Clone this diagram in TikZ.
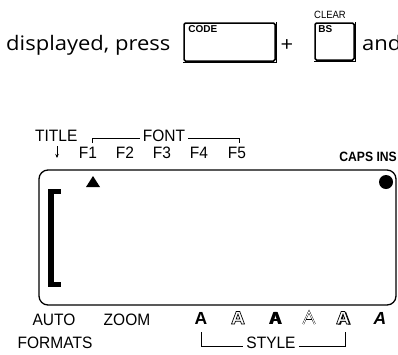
\documentclass[tikz,border=0pt]{standalone}
\usepackage{fontspec}
\setmainfont{Liberation Sans}
\newfontfamily\bodyfont{Open Sans}
\usetikzlibrary{arrows.meta}
\begin{document}
\begin{tikzpicture}[x=1pt,y=-1pt,
  body/.style={inner sep=0pt, anchor=base west, font=\bodyfont\fontsize{20}{20}\selectfont, xscale=1.1},
  lbl/.style={inner sep=0pt, anchor=base, font=\fontsize{16.5}{16.5}\selectfont, xscale=0.94},
  keylbl/.style={inner sep=0pt, anchor=north west, font=\bfseries\fontsize{10}{10}\selectfont},
  keybox/.style={draw, line width=1.5pt, rounded corners=1.5pt, inner sep=0pt},
  keyshadow/.style={line width=1.2pt},
  brk/.style={line width=0.6pt},
  bigA/.style={inner sep=0pt, anchor=base, font=\bfseries\fontsize{17.5}{17.5}\selectfont},
  outlineA/.pic={
    \path[pic actions, even odd rule]
      (-6.5,0) -- (-1.8,-12.5) -- (1.8,-12.5) -- (6.5,0) -- (3.5,0) -- (2.6,-2.7) -- (-2.6,-2.7) -- (-3.5,0) -- cycle
      (-1.8,-5.1) -- (1.8,-5.1) -- (0,-10) -- cycle;
  }]
\useasboundingbox (0,0) rectangle (398,354);
\clip (0,0) rectangle (398,354);

% top line
\node[body] (disp) at (6,50) {displayed, press};
\node[keybox, minimum width=91pt, minimum height=38pt] (code) at (229.5,42) {};
\draw[keyshadow] ([xshift=0.8pt]code.north east) -- ([xshift=0.8pt,yshift=-0.8pt]code.south east) -- ([yshift=-0.8pt]code.south west);
\node[keylbl] (codetxt) at ([shift={(5,3)}]code.north west) {CODE};
\node[body, anchor=center] (plus) at (287,46) {+};
\node[keybox, minimum width=39pt, minimum height=37pt] (bs) at (334.5,41.5) {};
\draw[keyshadow] ([xshift=0.8pt]bs.north east) -- ([xshift=0.8pt,yshift=-0.8pt]bs.south east) -- ([yshift=-0.8pt]bs.south west);
\node[keylbl] (bstxt) at ([shift={(4,3)}]bs.north west) {BS};
\node[inner sep=0pt, anchor=base west, font=\fontsize{10.5}{10.5}\selectfont, xscale=0.9] (clear) at (314,18) {CLEAR};
\node[body] (and) at (362,50) {and};

% display
\node[draw, line width=1.3pt, rounded corners=9pt, minimum width=357pt, minimum height=135pt, inner sep=0pt] (lcd) at (217.5,237.5) {};
\fill (86,187) -- (100,187) -- (93,176) -- cycle;
\fill (48,189) rectangle (61,194);
\fill (48,189) rectangle (54,287);
\fill (48,282) rectangle (61,287);
\fill (386,182) circle (7);

% top labels
\node[lbl, anchor=base west] (title) at (35,141) {TITLE};
\coordinate (arrs) at (57,146);
\coordinate (arre) at (57,158);
\draw[line width=0.8pt, -{Stealth[length=4pt,width=3.5pt]}] (arrs) -- (arre);
\node[lbl] (font) at (164,141) {FONT};
\coordinate (fl) at (92,143);
\coordinate (fr) at (239,143);
\draw[brk] (fl) |- ([xshift=-3pt,yshift=-3pt]font.west);
\draw[brk] ([xshift=3pt,yshift=-3pt]font.east) -| (fr);
\node[lbl] (f1) at (88,158) {F1};
\node[lbl] (f2) at (125,158) {F2};
\node[lbl] (f3) at (162,158) {F3};
\node[lbl] (f4) at (199,158) {F4};
\node[lbl] (f5) at (237,158) {F5};
\node[inner sep=0pt, anchor=base east, font=\bfseries\fontsize{13.5}{13.5}\selectfont, xscale=0.9] (caps) at (397,161) {CAPS INS};

% bottom labels
\node[lbl] (auto) at (54,325) {AUTO};
\node[lbl] (formats) at (55,348) {FORMATS};
\node[lbl] (zoom) at (127,325) {ZOOM};
\node[bigA] (a1) at (201,324) {A};
\pic[fill=white, draw=black, line width=0.7pt] at (238,324) {outlineA};
\node[bigA] (a3s) at (276.2,324.8) {A};
\node[bigA] (a3b) at (275.6,324.4) {A};
\node[bigA] (a3) at (275,324) {A};
\coordinate (a4) at (309,324);
\draw[double, double distance=0.9pt, line width=0.4pt, line join=miter] ([shift={(-5.8,0)}]a4) -- ([shift={(0,-12.5)}]a4) -- ([shift={(5.8,0)}]a4);
\draw[double, double distance=0.9pt, line width=0.4pt] ([shift={(-3.2,-4)}]a4) -- ([shift={(3.2,-4)}]a4);
\pic[fill=black] at (344.3,324.6) {outlineA};
\pic[fill=white, draw=black, line width=0.7pt] at (343,324) {outlineA};
\node[bigA, font=\bfseries\itshape\fontsize{17.5}{17.5}\selectfont] (a6) at (380,324) {A};
\node[lbl] (style) at (271,348) {STYLE};
\coordinate (sl) at (201,332);
\coordinate (sr) at (345,332);
\draw[brk] (sl) |- ([xshift=-3pt,yshift=-4pt]style.west);
\draw[brk] ([xshift=3pt,yshift=-4pt]style.east) -| (sr);
\end{tikzpicture}
\end{document}
